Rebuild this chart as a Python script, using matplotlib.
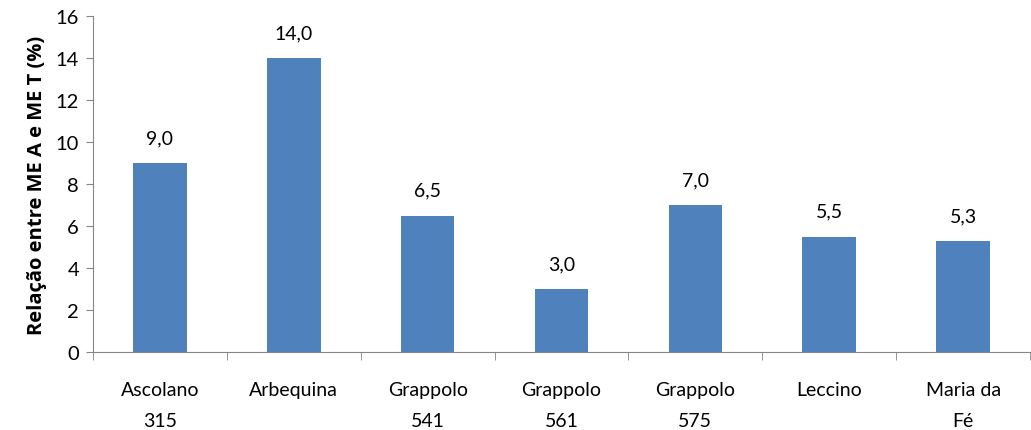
import matplotlib
matplotlib.use("Agg")
import matplotlib.pyplot as plt
import numpy as np

categories = ["Ascolano\n315", "Arbequina", "Grappolo\n541", "Grappolo\n561",
              "Grappolo\n575", "Leccino", "Maria da\nFé"]
values = [9.0, 14.0, 6.5, 3.0, 7.0, 5.5, 5.3]
yticks = [0, 2, 4, 6, 8, 10, 12, 14, 16]

plt.rcParams['font.family'] = ['Lato', 'DejaVu Sans']

fig = plt.figure(figsize=(10.31, 4.31), dpi=100)
ax = fig.add_axes([93 / 1031, 1 - 353 / 431, (1030 - 93) / 1031, (353 - 17) / 431])

x = np.arange(len(categories))
ax.bar(x, values, width=0.4, color="#4F81BD", zorder=2)

for xi, v in zip(x, values):
    ax.annotate(f"{v:.1f}".replace(".", ","), (xi, v), xytext=(0, 12),
                textcoords="offset points", ha="center", va="bottom", fontsize=14)

ax.set_xlim(-0.5, len(categories) - 0.5)
ax.set_ylim(0, 16)
ax.set_yticks(yticks)
ax.set_yticklabels([str(t) for t in yticks], fontsize=14.5)
ax.set_xticks(x)
ax.set_xticklabels(categories, fontsize=14, linespacing=2.0)
ax.set_xticks(np.arange(len(categories) + 1) - 0.5, minor=True)
ax.tick_params(axis="x", which="major", length=0, pad=21)
ax.tick_params(axis="x", which="minor", length=6, color="#868686", direction="out")
ax.tick_params(axis="y", length=5, color="#868686", direction="out", pad=5)

for s in ["top", "right"]:
    ax.spines[s].set_visible(False)
for s in ["left", "bottom"]:
    ax.spines[s].set_color("#868686")

ax.set_ylabel("Relação entre ME A e ME T (%)", fontsize=14.5, fontweight="bold",
              family=["Open Sans", "DejaVu Sans"], labelpad=6)

fig.savefig("out.png", dpi=100)
